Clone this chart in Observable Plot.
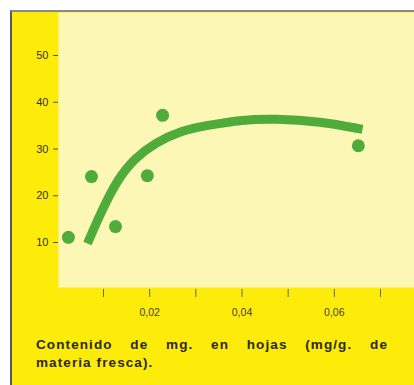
<!DOCTYPE html>
<html>
<head>
<meta charset="utf-8">
<script src="https://cdn.jsdelivr.net/npm/d3@7"></script>
<script src="https://cdn.jsdelivr.net/npm/@observablehq/plot@0.6"></script>
<style>
  html, body { margin: 0; padding: 0; background: #ffffff; }
  #page { position: relative; width: 414px; height: 385px; overflow: hidden; }
  #panel {
    position: absolute; left: 10px; top: 10px; width: 402px; height: 373px;
    background: #fdeb0a; border-left: 2px solid #5a5a50; border-top: 2px solid #8a8a80;
  }
  #chart { position: absolute; left: 0; top: 0; }
  .cap {
    position: absolute; left: 24px; width: 352px;
    font-family: "Liberation Sans", Arial, sans-serif; font-weight: bold;
    font-size: 13.5px; line-height: 18px; color: #2b2a12;
    letter-spacing: 1.1px; white-space: nowrap;
  }
  #cap1 { top: 324px; text-align: justify; text-align-last: justify; white-space: normal; }
  #cap2 { top: 342px; text-align: left; }
</style>
</head>
<body>
<div id="page">
  <div id="panel">
    <div id="chart"></div>
    <div class="cap" id="cap1">Contenido de mg. en hojas (mg/g. de</div>
    <div class="cap" id="cap2">materia fresca).</div>
  </div>
</div>
<script>
// Observed points: leaf Mg content (mg/g fresh matter) vs. response
const pointX = [0.0024, 0.0074, 0.0126, 0.0195, 0.0228, 0.0652];
const pointY = [11.1, 24.1, 13.4, 24.3, 37.2, 30.7];

// Fitted curve
const curveX = [0.00653, 0.00950, 0.01303, 0.01671, 0.02126, 0.02711, 0.03209, 0.04032, 0.04682, 0.0570, 0.0661];
const curveY = [9.8, 16.6, 23.5, 28.0, 31.4, 34.0, 35.0, 36.3, 36.5, 35.9, 34.2];

// Axis ticks
const xTicks = [0.01, 0.02, 0.03, 0.04, 0.05, 0.06, 0.07];
const xTickLabels = {0.02: "0,02", 0.04: "0,04", 0.06: "0,06"};
const yTicks = [10, 20, 30, 40, 50];

const points = pointX.map((x, i) => ({x, y: pointY[i]}));
const curve = curveX.map((x, i) => ({x, y: curveY[i]}));

const green = "#4fab3a";

const plot = Plot.plot({
  width: 402,
  height: 320,
  marginLeft: 46,
  marginRight: 0,
  marginTop: 0,
  marginBottom: 45,
  style: {background: "transparent", fontFamily: "'Liberation Sans', Arial, sans-serif", overflow: "visible"},
  x: {domain: [0.01, 0.07], range: [91, 368]},
  y: {domain: [10, 50], range: [230, 43]},
  marks: [
    Plot.frame({fill: "#fcf7b4", stroke: null}),
    Plot.axisY({
      ticks: yTicks, tickSize: 5, tickPadding: 5, fontSize: 11,
      stroke: "#555", color: "#333", label: null
    }),
    Plot.axisX({
      ticks: xTicks, tickSize: 8, tickPadding: 11, fontSize: 10.5,
      tickFormat: d => xTickLabels[d] ?? "", stroke: "#666", color: "#444",
      label: null, dy: 2
    }),
    Plot.line(curve, {x: "x", y: "y", curve: "basis", stroke: green, strokeWidth: 9, strokeLinecap: "butt"}),
    Plot.dot(points, {x: "x", y: "y", r: 6.5, fill: green, stroke: null})
  ]
});
document.getElementById("chart").appendChild(plot);
</script>
</body>
</html>
